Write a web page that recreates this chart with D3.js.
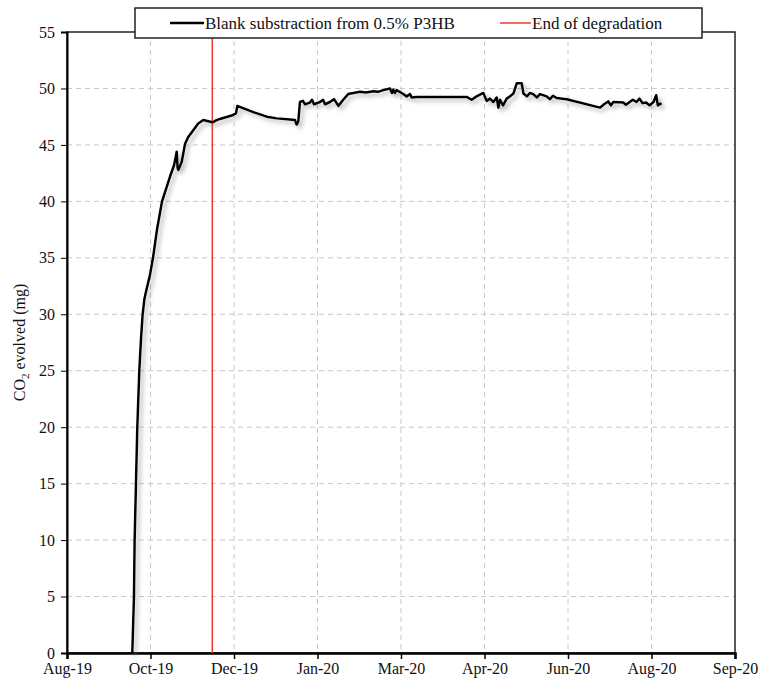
<!DOCTYPE html>
<html>
  <head>
    <meta charset="utf-8">
    <title>CO2 evolved</title>
    <style>
      body { margin: 0; background: #fff; }
      svg text { font-family: "Liberation Serif", "DejaVu Serif", serif !important; }
    </style>
  </head>
  <body>
    <svg id="chart" width="763" height="686" font-family="Liberation Serif"></svg>
    <script src="https://d3js.org/d3.v7.min.js"></script>
    <script>
      // dates are Excel serial numbers, values in mg
      var days = [
        43739.1, 43740.1, 43740.5, 43741.3, 43742.1, 43743.3, 43744.3, 43745.3, 43746.3, 43747.3,
        43749.7, 43751.5, 43753.9, 43756.9, 43761.7, 43764.1, 43765.7, 43766.2, 43766.7, 43768.7,
        43770.7, 43772.6, 43775.6, 43778.6, 43781.6, 43784.6, 43787.2, 43789.6, 43791.6, 43798.6,
        43801.2, 43802.0, 43804.6, 43811.6, 43819.6, 43825.6, 43833.5, 43836.5, 43837.5, 43838.5,
        43839.5, 43841.3, 43842.5, 43845.5, 43846.7, 43847.9, 43851.5, 43853.3, 43854.5, 43857.5,
        43859.9, 43861.5, 43862.5, 43865.4, 43868.4, 43875.4, 43879.0, 43883.4, 43886.2, 43889.4,
        43893.4, 43894.6, 43895.4, 43896.4, 43897.4, 43900.4, 43903.4, 43905.4, 43906.4, 43909.4,
        43939.3, 43942.3, 43945.3, 43949.3, 43951.3, 43953.3, 43955.3, 43957.3, 43958.3, 43959.3,
        43961.1, 43963.3, 43965.3, 43967.3, 43969.3, 43972.3, 43973.3, 43975.4, 43977.2, 43979.2,
        43981.4, 43983.2, 43987.2, 43989.2, 43991.0, 43993.2, 43999.2, 44019.2, 44021.6, 44024.1,
        44025.7, 44027.1, 44033.1, 44034.7, 44038.8, 44041.0, 44042.8, 44044.6, 44046.8, 44048.8,
        44051.2, 44052.8, 44053.8, 44056.0
      ];
      var co2 = [
        0, 5, 10, 15, 20, 25, 27.8, 30, 31.3, 32,
        33.5, 35, 37.5, 40, 42.2, 43.2, 44.4, 43.0, 42.8, 43.5,
        45.1, 45.7, 46.3, 46.9, 47.2, 47.1, 47.0, 47.2, 47.3, 47.6,
        47.8, 48.45, 48.3, 47.9, 47.5, 47.35, 47.25, 47.2, 46.8, 47.1,
        48.8, 48.9, 48.6, 48.75, 49.0, 48.6, 48.8, 49.0, 48.6, 48.8,
        49.05, 48.7, 48.45, 49.0, 49.5, 49.7, 49.65, 49.75, 49.7, 49.85,
        50.0, 49.6, 49.9, 49.6, 49.85, 49.6, 49.3, 49.5, 49.2, 49.25,
        49.25, 49.0, 49.3, 49.6, 48.9, 49.1, 48.8, 49.2, 48.3, 49.0,
        48.5, 49.1, 49.3, 49.55, 50.45, 50.45, 49.55, 49.3, 49.6, 49.5,
        49.2, 49.5, 49.3, 49.05, 49.35, 49.15, 49.05, 48.3, 48.6, 48.85,
        48.5, 48.8, 48.75, 48.55, 49.0, 48.8, 49.1, 48.7, 48.75, 48.5,
        48.8, 49.4, 48.5, 48.7
      ];
      var endOfDegradation = 43787;
      var xTicks = [43700, 43750, 43800, 43850, 43900, 43950, 44000, 44050, 44100];
      var yTicks = [0, 5, 10, 15, 20, 25, 30, 35, 40, 45, 50, 55];
      var seriesNames = ["Blank substraction from 0.5% P3HB", "End of degradation"];

      function serialToDate(s) {
        return new Date(Date.UTC(1899, 11, 30) + s * 864e5);
      }

      var data = days.map(function (d, i) { return { date: serialToDate(d), value: co2[i] }; });

      var margin = { left: 67, right: 28, top: 32, bottom: 33 };
      var width = 763, height = 686;
      var serif = '"Liberation Serif", "DejaVu Serif", serif';
      var svg = d3.select("#chart");

      var x = d3.scaleUtc()
        .domain([serialToDate(43700), serialToDate(44100)])
        .range([margin.left, width - margin.right]);
      var y = d3.scaleLinear()
        .domain([0, 55])
        .range([height - margin.bottom, margin.top]);

      var defs = svg.append("defs");
      var shadow = defs.append("filter").attr("id", "shadow")
        .attr("x", "-20%").attr("y", "-20%").attr("width", "140%").attr("height", "140%");
      shadow.append("feDropShadow")
        .attr("dx", 3).attr("dy", 3).attr("stdDeviation", 2)
        .attr("flood-color", "#777").attr("flood-opacity", 0.55);

      // grid
      svg.append("g")
        .selectAll("line.h")
        .data(yTicks.slice(1, -1))
        .join("line")
          .attr("x1", margin.left).attr("x2", width - margin.right)
          .attr("y1", d => y(d)).attr("y2", d => y(d))
          .attr("stroke", "#c8c8c8").attr("stroke-dasharray", "5,4");
      svg.append("g")
        .selectAll("line.v")
        .data(xTicks.slice(1, -1))
        .join("line")
          .attr("x1", d => x(serialToDate(d))).attr("x2", d => x(serialToDate(d)))
          .attr("y1", margin.top).attr("y2", height - margin.bottom)
          .attr("stroke", "#c8c8c8").attr("stroke-dasharray", "5,4");

      // frame
      svg.append("rect")
        .attr("x", margin.left).attr("y", margin.top)
        .attr("width", width - margin.left - margin.right)
        .attr("height", height - margin.top - margin.bottom)
        .attr("fill", "none").attr("stroke", "#222").attr("stroke-width", 1.5);

      // axes
      var yAxis = d3.axisLeft(y).tickValues(yTicks).tickSize(6).tickPadding(6);
      var gy = svg.append("g").attr("transform", "translate(" + margin.left + ",0)").call(yAxis)
        .attr("font-family", serif);
      gy.select(".domain").attr("stroke-width", 2);
      gy.selectAll("text").style("font-size", "16px").style("font-family", serif).attr("fill", "#111");

      var xAxis = d3.axisBottom(x)
        .tickValues(xTicks.map(serialToDate))
        .tickFormat(d3.utcFormat("%b-%y"))
        .tickSize(6).tickPadding(4);
      var gx = svg.append("g").attr("transform", "translate(0," + (height - margin.bottom) + ")").call(xAxis)
        .attr("font-family", serif);
      gx.select(".domain").attr("stroke-width", 2.5);
      gx.selectAll(".tick line").attr("stroke-width", 1.5);
      gx.selectAll("text").style("font-size", "16px").style("font-family", serif).attr("fill", "#111");

      // y label
      var yl = svg.append("text")
        .attr("transform", "translate(25," + ((margin.top + height - margin.bottom) / 2) + ") rotate(-90)")
        .attr("text-anchor", "middle")
        .style("font-size", "16px").style("font-family", serif)
        .attr("fill", "#111");
      yl.append("tspan").text("CO");
      yl.append("tspan").attr("dy", 4).style("font-size", "11px").text("2");
      yl.append("tspan").attr("dy", -4).text(" evolved (mg)");

      // end of degradation marker
      svg.append("line")
        .attr("x1", x(serialToDate(endOfDegradation))).attr("x2", x(serialToDate(endOfDegradation)))
        .attr("y1", margin.top).attr("y2", height - margin.bottom)
        .attr("stroke", "#ee3b2b").attr("stroke-width", 1.5);

      // series
      var line = d3.line().x(d => x(d.date)).y(d => y(d.value));
      svg.append("path")
        .datum(data)
        .attr("d", line)
        .attr("fill", "none")
        .attr("stroke", "#000")
        .attr("stroke-width", 2.5)
        .attr("stroke-linejoin", "round")
        .attr("filter", "url(#shadow)");

      // legend
      var lg = svg.append("g");
      lg.append("rect")
        .attr("x", 135).attr("y", 8).attr("width", 567).attr("height", 30)
        .attr("fill", "#fff").attr("stroke", "#222").attr("stroke-width", 1.5);
      lg.append("line").attr("x1", 170).attr("x2", 204).attr("y1", 23).attr("y2", 23)
        .attr("stroke", "#000").attr("stroke-width", 2.5);
      lg.append("text").attr("x", 205).attr("y", 28.5).style("font-size", "17px").style("font-family", serif)
        .attr("fill", "#111").text(seriesNames[0]);
      lg.append("line").attr("x1", 500).attr("x2", 531).attr("y1", 23).attr("y2", 23)
        .attr("stroke", "#ee3b2b").attr("stroke-width", 1.5);
      lg.append("text").attr("x", 532).attr("y", 28.5).style("font-size", "17px").style("font-family", serif)
        .attr("fill", "#111").text(seriesNames[1]);
    </script>
  </body>
</html>
